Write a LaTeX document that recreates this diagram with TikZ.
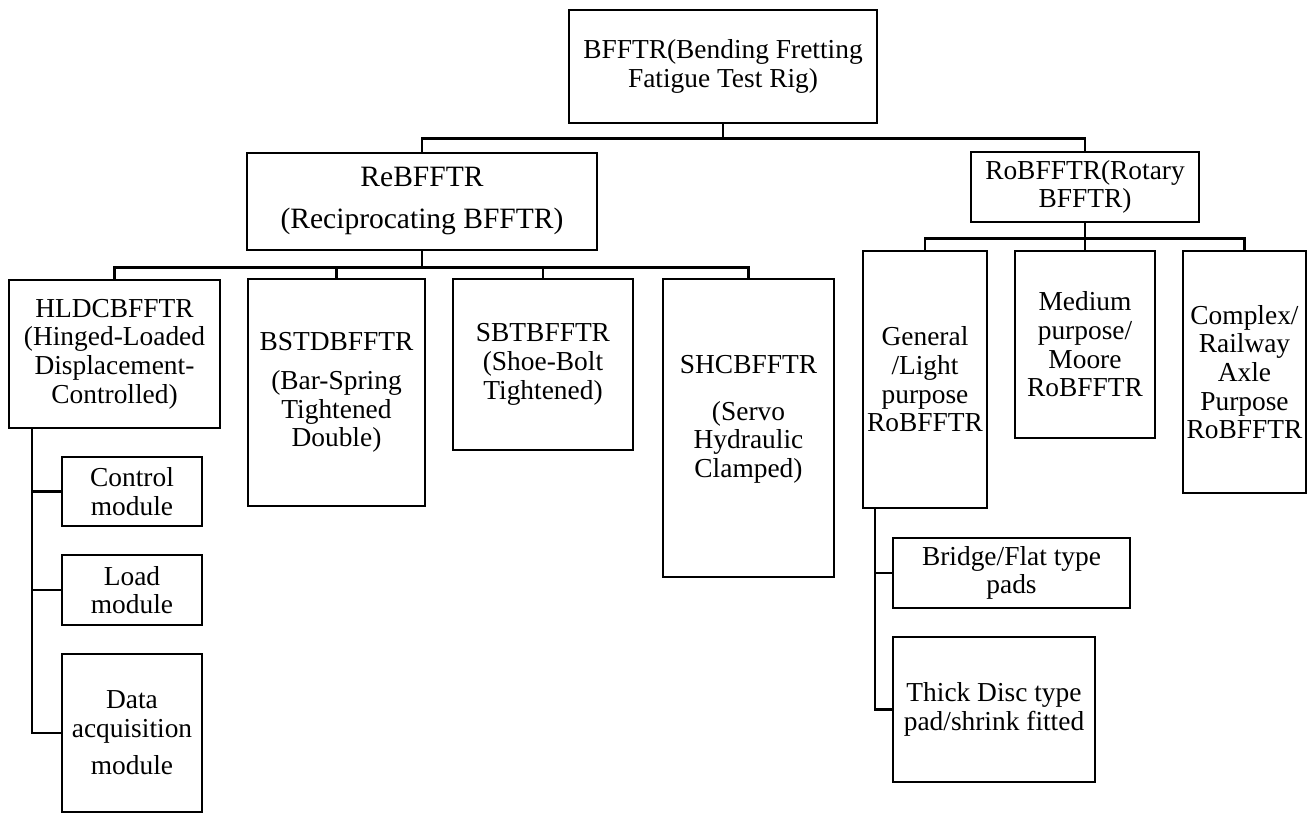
\documentclass[tikz,border=0pt]{standalone}
\usepackage{fontspec}
\setmainfont{Liberation Serif}
\tikzset{
    box/.style={draw, line width=1.6pt, align=center, inner sep=0pt,
      font=\fontsize{15.6}{16.3}\selectfont},
    sz/.style 2 args={minimum width=#1*0.02cm, minimum height=#2*0.02cm},
    link/.style={line width=1.6pt, line join=miter}
}

\begin{document}
\begin{tikzpicture}[x=0.02cm, y=-0.02cm]
    \useasboundingbox (0,0) rectangle (1309,815);
    \node[box, sz={308}{113}] (bfftr) at (723,66.5) {BFFTR(Bending Fretting\\Fatigue Test Rig)};
    \node[box, sz={350}{97}, font=\fontsize{16.8}{17.5}\selectfont] (re) at (422,201.5) {ReBFFTR\\[6.4pt](Reciprocating BFFTR)};
    \node[box, sz={228}{70}] (ro) at (1085,187) {RoBFFTR(Rotary\\BFFTR)};
    % reciprocating rigs
    \node[box, sz={211}{148}] (hldc) at (114.5,354) {HLDCBFFTR\\(Hinged-Loaded\\Displacement-\\Controlled)};
    \node[box, sz={177}{227}] (bstd) at (336.5,392.5) {BSTDBFFTR\\[6pt](Bar-Spring\\Tightened\\Double)};
    \node[box, sz={180}{171}] (sbtb) at (543,364.5) {SBTBFFTR\\(Shoe-Bolt\\Tightened)};
    \node[box, sz={171}{298}] (shc) at (748.5,428) {SHCBFFTR\\[10.5pt](Servo\\Hydraulic\\Clamped)\\[-3pt]\mbox{}};
    \node[box, sz={140}{69}] (ctrl) at (132,491.5) {Control\\module};
    \node[box, sz={140}{70}] (load) at (132,590) {Load\\module};
    \node[box, sz={140}{158}] (daq) at (132,733) {Data\\acquisition\\[5pt]module};
    % rotary rigs
    \node[box, sz={124}{257}] (gen) at (925,379.5) {General\\/Light\\purpose\\RoBFFTR};
    \node[box, sz={140}{187}] (med) at (1085,344.5) {Medium\\purpose/\\Moore\\RoBFFTR};
    \node[box, sz={123}{242}] (cpx) at (1244.5,372) {Complex/\\Railway\\Axle\\Purpose\\RoBFFTR};
    \node[box, sz={237}{70}] (brg) at (1011.5,573) {Bridge/Flat type\\pads};
    \node[box, sz={202}{145}] (thk) at (994,709.5) {Thick Disc type\\pad/shrink fitted};
    % tree lines
    \draw[link] (bfftr.south) -- ++(0,14) -| (re.north);
    \draw[link] (bfftr.south) -- ++(0,14) -| (ro.north);
    \foreach \c in {hldc,bstd,sbtb,shc}
        \draw[link] (re.south) -- ++(0,16) -| (\c.north);
    \foreach \c in {gen,med,cpx}
        \draw[link] (ro.south) -- ++(0,15) -| (\c.north);
    \coordinate (hbus) at (32,428);
    \foreach \c in {ctrl,load,daq}
        \draw[link] (hbus) |- (\c.west);
    \coordinate (gbus) at (875,508);
    \foreach \c in {brg,thk}
        \draw[link] (gbus) |- (\c.west);
\end{tikzpicture}
\end{document}
